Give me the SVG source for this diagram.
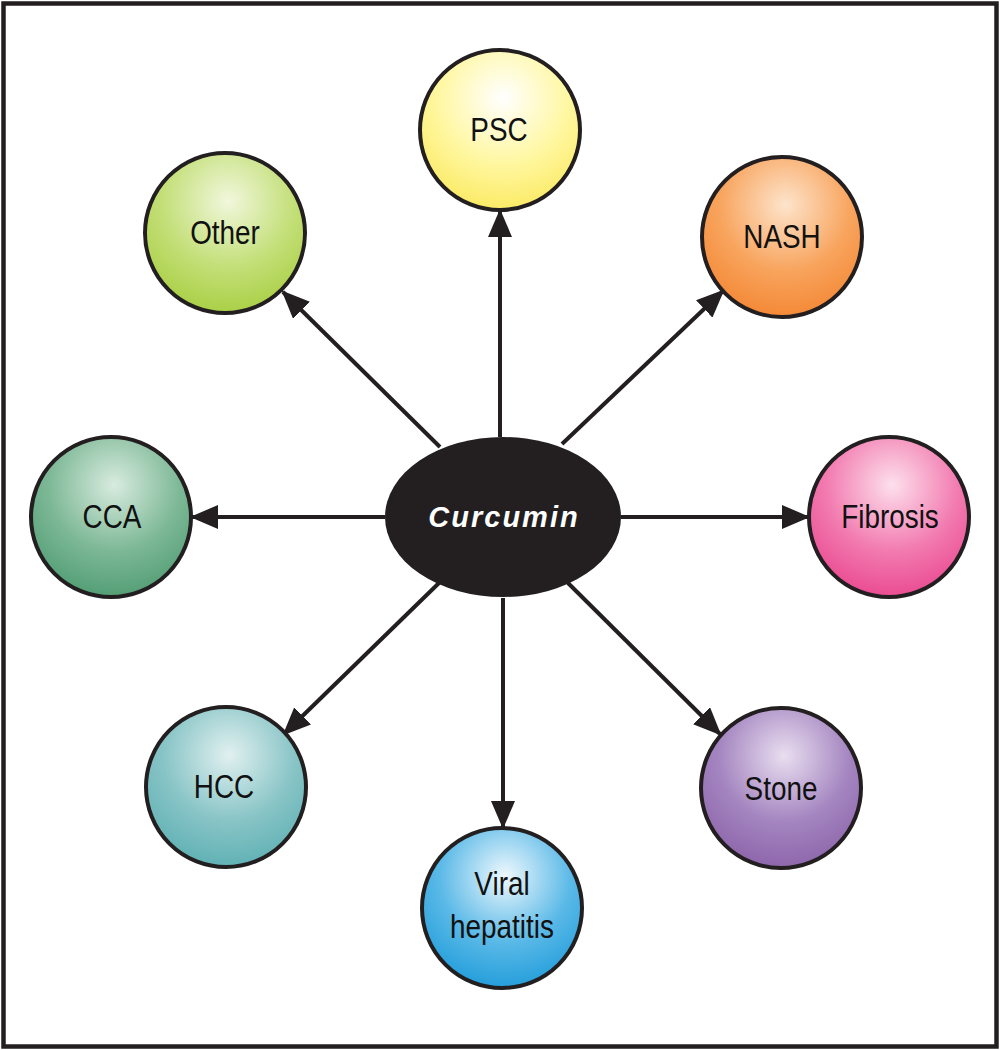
<svg xmlns="http://www.w3.org/2000/svg" width="1000" height="1050" viewBox="0 0 1000 1050">
<defs>
<style>
.node{stroke:#231f20;stroke-width:4}
.lbl{font-family:"Liberation Sans",Arial,sans-serif;font-size:34px;fill:#111;text-anchor:middle}
.conn{stroke:#231f20;stroke-width:4;fill:none;marker-end:url(#ah)}
</style>
<marker id="ah" viewBox="0 0 28 24" refX="26" refY="12" markerWidth="28" markerHeight="24" markerUnits="userSpaceOnUse" orient="auto">
<path d="M0,0 L28,12 L0,24 Z" fill="#231f20"/>
</marker>
<radialGradient id="gPSC" cx="0.52" cy="0.3" r="0.75"><stop offset="0" stop-color="#ffffff"/><stop offset="0.55" stop-color="#fff7a0"/><stop offset="1" stop-color="#fbe85c"/></radialGradient>
<radialGradient id="gNASH" cx="0.52" cy="0.3" r="0.75"><stop offset="0" stop-color="#fde4cc"/><stop offset="0.55" stop-color="#f8a45d"/><stop offset="1" stop-color="#f38430"/></radialGradient>
<radialGradient id="gFib" cx="0.52" cy="0.3" r="0.75"><stop offset="0" stop-color="#fde0ec"/><stop offset="0.55" stop-color="#f27bb0"/><stop offset="1" stop-color="#e9448d"/></radialGradient>
<radialGradient id="gStone" cx="0.52" cy="0.3" r="0.75"><stop offset="0" stop-color="#e9def0"/><stop offset="0.55" stop-color="#a485c0"/><stop offset="1" stop-color="#8a61a8"/></radialGradient>
<radialGradient id="gViral" cx="0.52" cy="0.3" r="0.75"><stop offset="0" stop-color="#eef8fd"/><stop offset="0.55" stop-color="#5ab9e7"/><stop offset="1" stop-color="#1c9ad9"/></radialGradient>
<radialGradient id="gHCC" cx="0.52" cy="0.3" r="0.75"><stop offset="0" stop-color="#e1f0f0"/><stop offset="0.55" stop-color="#88c4c6"/><stop offset="1" stop-color="#5aaeb2"/></radialGradient>
<radialGradient id="gCCA" cx="0.52" cy="0.3" r="0.75"><stop offset="0" stop-color="#d8ebdf"/><stop offset="0.55" stop-color="#7db896"/><stop offset="1" stop-color="#4c9a70"/></radialGradient>
<radialGradient id="gOther" cx="0.52" cy="0.3" r="0.75"><stop offset="0" stop-color="#f1f7dc"/><stop offset="0.55" stop-color="#c3df78"/><stop offset="1" stop-color="#a6cd3e"/></radialGradient>
</defs>
<rect x="3.5" y="3.5" width="993" height="1043" fill="#ffffff" stroke="#231f20" stroke-width="4.5"/>
<g id="connectors">
<line class="conn" x1="500" y1="437" x2="500" y2="211"/>
<line class="conn" x1="562" y1="444" x2="723" y2="291"/>
<line class="conn" x1="621" y1="517" x2="808" y2="517"/>
<line class="conn" x1="568" y1="583" x2="720" y2="734"/>
<line class="conn" x1="503" y1="598" x2="503" y2="827"/>
<line class="conn" x1="440" y1="582" x2="284" y2="734"/>
<line class="conn" x1="385" y1="517" x2="192" y2="517"/>
<line class="conn" x1="440" y1="447" x2="283" y2="292"/>
</g>
<g id="curcumin">
<ellipse cx="503" cy="517" rx="118" ry="80" fill="#231f20"/>
<text x="504" y="527" font-family="'Liberation Sans',Arial,sans-serif" font-size="29" font-weight="bold" font-style="italic" letter-spacing="2" fill="#ffffff" text-anchor="middle">Curcumin</text>
</g>
<g id="psc">
<circle class="node" cx="500" cy="130" r="80" fill="url(#gPSC)"/>
<text class="lbl" transform="translate(499,141) scale(0.82,1)">PSC</text>
</g>
<g id="nash">
<circle class="node" cx="782" cy="237" r="80" fill="url(#gNASH)"/>
<text class="lbl" transform="translate(782,248) scale(0.82,1)">NASH</text>
</g>
<g id="fibrosis">
<circle class="node" cx="889" cy="517" r="80" fill="url(#gFib)"/>
<text class="lbl" transform="translate(890,528) scale(0.82,1)">Fibrosis</text>
</g>
<g id="stone">
<circle class="node" cx="781" cy="788" r="80" fill="url(#gStone)"/>
<text class="lbl" transform="translate(781,800) scale(0.82,1)">Stone</text>
</g>
<g id="viral">
<circle class="node" cx="502" cy="908" r="80" fill="url(#gViral)"/>
<text class="lbl" transform="translate(502,895) scale(0.82,1)">Viral</text>
<text class="lbl" transform="translate(502,938) scale(0.82,1)">hepatitis</text>
</g>
<g id="hcc">
<circle class="node" cx="226" cy="787" r="80" fill="url(#gHCC)"/>
<text class="lbl" transform="translate(224,798) scale(0.82,1)">HCC</text>
</g>
<g id="cca">
<circle class="node" cx="111" cy="517" r="80" fill="url(#gCCA)"/>
<text class="lbl" transform="translate(112,528) scale(0.82,1)">CCA</text>
</g>
<g id="other">
<circle class="node" cx="225" cy="233" r="80" fill="url(#gOther)"/>
<text class="lbl" transform="translate(225,244) scale(0.82,1)">Other</text>
</g>
</svg>
